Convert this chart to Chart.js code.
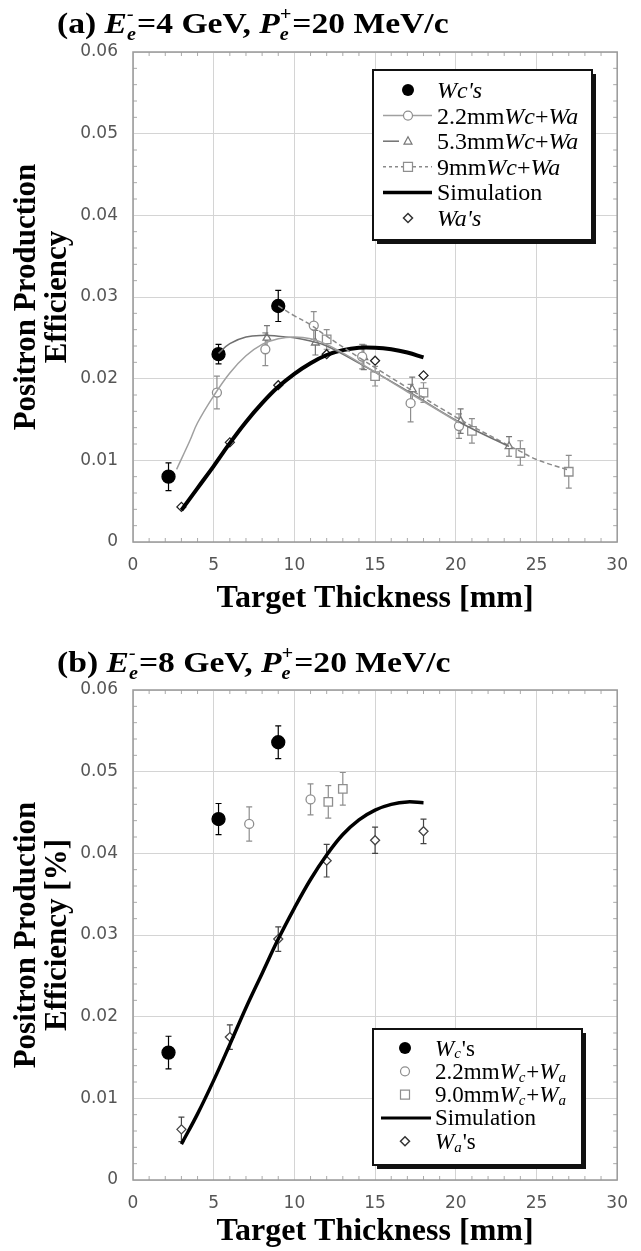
<!DOCTYPE html>
<html>
<head>
<meta charset="utf-8">
<script src="https://cdn.jsdelivr.net/npm/chart.js@4.4.0/dist/chart.umd.min.js"></script>
<style>
  body { margin: 0; background: #fff; }
  #wrap { position: relative; width: 641px; height: 1251px; }
  canvas { position: absolute; left: 0; }
  #chartA { top: 0; }
  #chartB { top: 625px; }
</style>
</head>
<body>
<div id="wrap">
  <canvas id="chartA" width="641" height="625"></canvas>
  <canvas id="chartB" width="641" height="626"></canvas>
</div>
<script>
// ─── ASSI ─────────────────────────────────────────────────────────
const xTicks = [0, 5, 10, 15, 20, 25, 30];
const yTicks = [0, 0.01, 0.02, 0.03, 0.04, 0.05, 0.06];

// ─── (a) Ee- = 4 GeV ──────────────────────────────────────────────
const aWcX = [2.2, 5.3, 9.0];
const aWcY = [0.0080, 0.0230, 0.0289];
const aWcErr = [0.0017, 0.0012, 0.0019];

const aWaX = [3, 6, 9, 12, 15, 18];
const aWaY = [0.0043, 0.0122, 0.0192, 0.0230, 0.0222, 0.0204];

const a22X = [5.2, 8.2, 11.2, 14.2, 17.2, 20.2];
const a22Y = [0.0183, 0.0236, 0.0265, 0.0227, 0.0170, 0.0142];
const a22Err = [0.0020, 0.0020, 0.0017, 0.0015, 0.0023, 0.0015];

const a53X = [8.3, 11.3, 14.3, 17.3, 20.3, 23.3];
const a53Y = [0.0250, 0.0244, 0.0226, 0.0187, 0.0148, 0.0117];
const a53Err = [0.0015, 0.0015, 0.0015, 0.0015, 0.0015, 0.0012];

const a9X = [12, 15, 18, 21, 24, 27];
const a9Y = [0.0248, 0.0203, 0.0183, 0.0136, 0.0109, 0.0086];
const a9Err = [0.0012, 0.0012, 0.0012, 0.0015, 0.0015, 0.0020];

const aSimX = [3, 4, 5, 6, 7, 8, 9, 10, 11, 12, 13, 14, 15, 16, 17, 18];
const aSimY = [0.0039, 0.0066, 0.0093, 0.0121, 0.0147, 0.0170, 0.0190, 0.0206,
               0.0219, 0.0229, 0.0235, 0.0238, 0.0238, 0.0236, 0.0232, 0.0226];

// curve di fit (grigie)
const aFit22X = [2.7, 3.5, 4, 5, 6, 7, 8, 9, 10, 11, 12, 14, 17, 20.2];
const aFit22Y = [0.0089, 0.0123, 0.0146, 0.0179, 0.0207, 0.0228, 0.0242, 0.0249,
                 0.0251, 0.0249, 0.0242, 0.0220, 0.0184, 0.0146];
const aFit53X = [5.3, 6, 7, 8, 9, 10, 11, 12, 14, 17, 20.3, 23.3];
const aFit53Y = [0.0231, 0.0243, 0.0251, 0.0253, 0.0252, 0.0250, 0.0246, 0.0240,
                 0.0219, 0.0185, 0.0146, 0.0117];
const aFit9X = [9, 10, 11, 12, 14, 17, 20, 23, 24, 25, 27];
const aFit9Y = [0.0289, 0.0277, 0.0266, 0.0252, 0.0226, 0.0189, 0.0153, 0.0121,
                0.0111, 0.0101, 0.0088];

// ─── (b) Ee- = 8 GeV ──────────────────────────────────────────────
const bWcX = [2.2, 5.3, 9.0];
const bWcY = [0.0156, 0.0442, 0.0536];
const bWcErr = [0.0020, 0.0019, 0.0020];

const bWaX = [3, 6, 9, 12, 15, 18];
const bWaY = [0.0062, 0.0175, 0.0295, 0.0391, 0.0416, 0.0427];
const bWaErr = [0.0015, 0.0015, 0.0015, 0.0020, 0.0016, 0.0015];

const b22X = [7.2, 11.0];
const b22Y = [0.0436, 0.0466];
const b22Err = [0.0021, 0.0019];

const b9X = [12.1, 13.0];
const b9Y = [0.0463, 0.0479];
const b9Err = [0.0020, 0.0020];

const bSimX = [3, 4, 5, 6, 7, 8, 9, 10, 11, 12, 13, 14, 15, 16, 17, 18];
const bSimY = [0.0044, 0.0081, 0.0122, 0.0166, 0.0211, 0.0253, 0.0295, 0.0333,
               0.0368, 0.0398, 0.0423, 0.0441, 0.0453, 0.0460, 0.0463, 0.0462];

const SERIF = "'Liberation Serif', 'Times New Roman', serif";
const SANS = "'DejaVu Sans', sans-serif";
const GRAY = "#8e8e8e";

const pts = (xs, ys) => xs.map((x, i) => ({ x, y: ys[i] }));

// ─── PLUGIN: barre d'errore ───────────────────────────────────────
const errorBars = {
  id: "errorBars",
  beforeDatasetsDraw(chart) {
    const { ctx, scales: { x, y } } = chart;
    ctx.save();
    chart.data.datasets.forEach((ds) => {
      if (!ds.errors) return;
      ctx.strokeStyle = ds.errColor || ds.borderColor;
      ctx.lineWidth = 1.2;
      ds.data.forEach((p, i) => {
        const px = x.getPixelForValue(p.x);
        const top = y.getPixelForValue(p.y + ds.errors[i]);
        const bot = y.getPixelForValue(p.y - ds.errors[i]);
        ctx.beginPath();
        ctx.moveTo(px, top); ctx.lineTo(px, bot);
        ctx.moveTo(px - 3, top); ctx.lineTo(px + 3, top);
        ctx.moveTo(px - 3, bot); ctx.lineTo(px + 3, bot);
        ctx.stroke();
      });
    });
    ctx.restore();
  },
};

// ─── PLUGIN: cornice + tacche minori ──────────────────────────────
const frame = {
  id: "frame",
  beforeDatasetsDraw(chart) {
    const { ctx, chartArea: a, scales: { x, y } } = chart;
    ctx.save();
    ctx.strokeStyle = "#aaa";
    ctx.lineWidth = 1;
    ctx.beginPath();
    for (let v = 1; v < 30; v++) {
      if (v % 5 === 0) continue;
      const px = x.getPixelForValue(v);
      ctx.moveTo(px, a.top); ctx.lineTo(px, a.top + 4);
      ctx.moveTo(px, a.bottom); ctx.lineTo(px, a.bottom - 4);
    }
    for (let k = 1; k < 30; k++) {
      if (k % 5 === 0) continue;
      const py = y.getPixelForValue(k * 0.002);
      ctx.moveTo(a.left, py); ctx.lineTo(a.left + 4, py);
      ctx.moveTo(a.right, py); ctx.lineTo(a.right - 4, py);
    }
    ctx.stroke();
    ctx.strokeStyle = "#999";
    ctx.lineWidth = 1.5;
    ctx.strokeRect(a.left, a.top, a.width, a.height);
    ctx.restore();
  },
};

// testo con pedici / apici
function richText(ctx, x0, y, parts, size, bold, stretch) {
  const w = bold ? "bold " : "";
  ctx.save();
  ctx.translate(x0, y);
  ctx.scale(stretch || 1, 1);
  let x = 0;
  parts.forEach((p) => {
    const it = p.i ? "italic " : "";
    if (p.sub !== undefined || p.sup !== undefined) {
      const s = Math.round(size * (p.scale || 0.6));
      ctx.font = `${it}${w}${s}px ${SERIF}`;
      let adv = 0;
      if (p.sub) {
        ctx.fillText(p.sub, x, size * (p.low || 0.22));
        adv = Math.max(adv, ctx.measureText(p.sub).width);
      }
      if (p.sup) {
        ctx.fillText(p.sup, x, -size * 0.42);
        adv = Math.max(adv, ctx.measureText(p.sup).width);
      }
      x += adv + 1;
    } else {
      ctx.font = `${it}${w}${size}px ${SERIF}`;
      ctx.fillText(p.t, x, 0);
      x += ctx.measureText(p.t).width;
    }
  });
  ctx.restore();
}

function drawMark(ctx, kind, cx, cy) {
  ctx.beginPath();
  if (kind === "dot") {
    ctx.fillStyle = "#000";
    ctx.arc(cx, cy, 6, 0, Math.PI * 2);
    ctx.fill();
    return;
  }
  ctx.fillStyle = "#fff";
  ctx.lineWidth = 1.2;
  if (kind === "circle") {
    ctx.strokeStyle = GRAY;
    ctx.arc(cx, cy, 4.5, 0, Math.PI * 2);
  } else if (kind === "tri") {
    ctx.strokeStyle = "#777";
    ctx.moveTo(cx, cy - 4.5); ctx.lineTo(cx + 4, cy + 3); ctx.lineTo(cx - 4, cy + 3); ctx.closePath();
  } else if (kind === "square") {
    ctx.strokeStyle = GRAY;
    ctx.rect(cx - 4.5, cy - 4.5, 9, 9);
  } else if (kind === "diamond") {
    ctx.strokeStyle = "#333";
    ctx.lineWidth = 1.5;
    ctx.moveTo(cx, cy - 4.5); ctx.lineTo(cx + 4.5, cy); ctx.lineTo(cx, cy + 4.5); ctx.lineTo(cx - 4.5, cy); ctx.closePath();
  }
  ctx.fill();
  ctx.stroke();
}

// ─── PLUGIN: titolo + legenda ─────────────────────────────────────
const decor = {
  id: "decor",
  afterDraw(chart, args, opts) {
    const { ctx } = chart;
    ctx.save();
    ctx.fillStyle = "#000";
    ctx.textBaseline = "alphabetic";
    const T = opts.title;
    richText(ctx, T.x, T.y, T.parts, T.size, true, T.stretch);

    const L = opts.legend;
    const [l, t, r, b] = L.box;
    ctx.fillStyle = "#111";
    ctx.fillRect(l + 4, t + 4, r - l, b - t);
    ctx.fillStyle = "#fff";
    ctx.fillRect(l, t, r - l, b - t);
    ctx.strokeStyle = "#111";
    ctx.lineWidth = 2;
    ctx.strokeRect(l, t, r - l, b - t);

    L.rows.forEach((row, i) => {
      const cy = L.y0 + i * L.gap;
      if (row.line) {
        ctx.save();
        ctx.beginPath();
        ctx.strokeStyle = row.line.color;
        ctx.lineWidth = row.line.width;
        ctx.setLineDash(row.line.dash || []);
        ctx.moveTo(L.lineFrom, cy);
        ctx.lineTo(row.line.short ? L.markX - 9 : L.lineTo, cy);
        ctx.stroke();
        ctx.restore();
      }
      if (row.mark) drawMark(ctx, row.mark, L.markX, cy);
      ctx.fillStyle = "#000";
      richText(ctx, L.textX, cy + L.size * 0.33, row.parts, L.size, false);
    });
    ctx.restore();
  },
};

function axes(xHeight, titlePad) {
  return {
    x: {
      type: "linear",
      min: 0,
      max: 30,
      afterBuildTicks: (s) => { s.ticks = xTicks.map((v) => ({ value: v })); },
      afterFit: (s) => { s.height = xHeight; },
      grid: { color: "#d4d4d4", lineWidth: 1, drawTicks: false },
      border: { display: false },
      ticks: { color: "#555", font: { family: SANS, size: 17 }, padding: 13, maxRotation: 0 },
      title: {
        display: true,
        text: "Target Thickness [mm]",
        color: "#000",
        font: { family: SERIF, size: 32, weight: "bold", lineHeight: 1 },
        padding: { top: 0, bottom: titlePad },
      },
    },
    y: {
      type: "linear",
      min: 0,
      max: 0.06,
      afterBuildTicks: (s) => { s.ticks = yTicks.map((v) => ({ value: v })); },
      afterFit: (s) => { s.width = 133; },
      grid: { color: "#d4d4d4", lineWidth: 1, drawTicks: false },
      border: { display: false },
      ticks: {
        color: "#555",
        font: { family: SANS, size: 17 },
        padding: 15,
        callback: (v) => (v === 0 ? "0" : v.toFixed(2)),
      },
    },
  };
}

function yTitle(lines) {
  return {
    display: true,
    text: lines,
    color: "#000",
    font: { family: SERIF, size: 31, weight: "bold", lineHeight: 1 },
    padding: { top: 11, bottom: 0 },
  };
}

const markerSet = (label, data, style, color, radius, errors, fill) => ({
  label,
  data,
  showLine: false,
  pointStyle: style,
  pointRadius: radius,
  pointBackgroundColor: fill || "#fff",
  pointBorderColor: color,
  pointBorderWidth: 1.3,
  borderColor: color,
  errors,
});

const lineSet = (label, data, color, width, dash) => ({
  label,
  data,
  showLine: true,
  borderColor: color,
  borderWidth: width,
  borderDash: dash || [],
  pointRadius: 0,
  tension: 0.4,
});

// ─── GRAFICO (a) ──────────────────────────────────────────────────
const scalesA = axes(83, 10);
scalesA.y.title = yTitle(["Positron Production", "Efficiency"]);

new Chart(document.getElementById("chartA"), {
  type: "scatter",
  data: {
    datasets: [
      lineSet("fit 2.2mm", pts(aFit22X, aFit22Y), "#a0a0a0", 1.5),
      lineSet("fit 5.3mm", pts(aFit53X, aFit53Y), "#707070", 1.5),
      lineSet("fit 9mm", pts(aFit9X, aFit9Y), "#8a8a8a", 1.5, [5, 3]),
      lineSet("Simulation", pts(aSimX, aSimY), "#000", 4),
      markerSet("2.2mmWc+Wa", pts(a22X, a22Y), "circle", GRAY, 4.5, a22Err),
      markerSet("5.3mmWc+Wa", pts(a53X, a53Y), "triangle", "#777", 4.5, a53Err),
      markerSet("9mmWc+Wa", pts(a9X, a9Y), "rect", GRAY, 6, a9Err),
      markerSet("Wa's", pts(aWaX, aWaY), "rectRot", "#222", 4.5, null),
      markerSet("Wc's", pts(aWcX, aWcY), "circle", "#000", 6.5, aWcErr, "#000"),
    ],
  },
  options: {
    responsive: false,
    animation: false,
    layout: { padding: { top: 52, right: 17.5, left: 0, bottom: 0 } },
    scales: scalesA,
    plugins: {
      legend: { display: false },
      tooltip: { enabled: false },
      decor: {
        title: {
          x: 57, y: 33, size: 30, stretch: 1.12,
          parts: [
            { t: "(a) " }, { t: "E", i: true }, { sub: "e", sup: "-", i: true },
            { t: "=4 GeV, " }, { t: "P", i: true }, { sub: "e", sup: "+", i: true },
            { t: "=20 MeV/c" },
          ],
        },
        legend: {
          box: [373, 70, 592, 240],
          y0: 90, gap: 25.6, size: 24,
          markX: 408, lineFrom: 383, lineTo: 432, textX: 437,
          rows: [
            { mark: "dot", parts: [{ t: "Wc's", i: true }] },
            { mark: "circle", line: { color: "#a0a0a0", width: 1.5 },
              parts: [{ t: "2.2mm" }, { t: "Wc", i: true }, { t: "+" }, { t: "Wa", i: true }] },
            { mark: "tri", line: { color: "#707070", width: 1.5, short: true },
              parts: [{ t: "5.3mm" }, { t: "Wc", i: true }, { t: "+" }, { t: "Wa", i: true }] },
            { mark: "square", line: { color: "#8a8a8a", width: 1.5, dash: [3, 3] },
              parts: [{ t: "9mm" }, { t: "Wc", i: true }, { t: "+" }, { t: "Wa", i: true }] },
            { line: { color: "#000", width: 3.5 }, parts: [{ t: "Simulation" }] },
            { mark: "diamond", parts: [{ t: "Wa's", i: true }] },
          ],
        },
      },
    },
  },
  plugins: [frame, errorBars, decor],
});

// ─── GRAFICO (b) ──────────────────────────────────────────────────
const scalesB = axes(71, 3);
scalesB.y.title = yTitle(["Positron Production", "Efficiency [%]"]);

new Chart(document.getElementById("chartB"), {
  type: "scatter",
  data: {
    datasets: [
      lineSet("Simulation", pts(bSimX, bSimY), "#000", 3.5),
      markerSet("2.2mmWc+Wa", pts(b22X, b22Y), "circle", GRAY, 4.5, b22Err),
      markerSet("9.0mmWc+Wa", pts(b9X, b9Y), "rect", GRAY, 6, b9Err),
      markerSet("Wa's", pts(bWaX, bWaY), "rectRot", "#444", 4.5, bWaErr),
      markerSet("Wc's", pts(bWcX, bWcY), "circle", "#000", 6.5, bWcErr, "#000"),
    ],
  },
  options: {
    responsive: false,
    animation: false,
    layout: { padding: { top: 65, right: 17.5, left: 0, bottom: 0 } },
    scales: scalesB,
    plugins: {
      legend: { display: false },
      tooltip: { enabled: false },
      decor: {
        title: {
          x: 57, y: 47, size: 30, stretch: 1.12,
          parts: [
            { t: "(b) " }, { t: "E", i: true }, { sub: "e", sup: "-", i: true },
            { t: "=8 GeV, " }, { t: "P", i: true }, { sub: "e", sup: "+", i: true },
            { t: "=20 MeV/c" },
          ],
        },
        legend: {
          box: [373, 404, 582, 540],
          y0: 423, gap: 23.3, size: 23,
          markX: 405, lineFrom: 381, lineTo: 431, textX: 435,
          rows: [
            { mark: "dot", parts: [{ t: "W", i: true }, { sub: "c", i: true, scale: 0.65, low: 0.12 }, { t: "'s" }] },
            { mark: "circle",
              parts: [{ t: "2.2mm" }, { t: "W", i: true }, { sub: "c", i: true, scale: 0.65, low: 0.12 },
                      { t: "+" }, { t: "W", i: true }, { sub: "a", i: true, scale: 0.65, low: 0.12 }] },
            { mark: "square",
              parts: [{ t: "9.0mm" }, { t: "W", i: true }, { sub: "c", i: true, scale: 0.65, low: 0.12 },
                      { t: "+" }, { t: "W", i: true }, { sub: "a", i: true, scale: 0.65, low: 0.12 }] },
            { line: { color: "#000", width: 3 }, parts: [{ t: "Simulation" }] },
            { mark: "diamond", parts: [{ t: "W", i: true }, { sub: "a", i: true, scale: 0.65, low: 0.12 }, { t: "'s" }] },
          ],
        },
      },
    },
  },
  plugins: [frame, errorBars, decor],
});
</script>
</body>
</html>
